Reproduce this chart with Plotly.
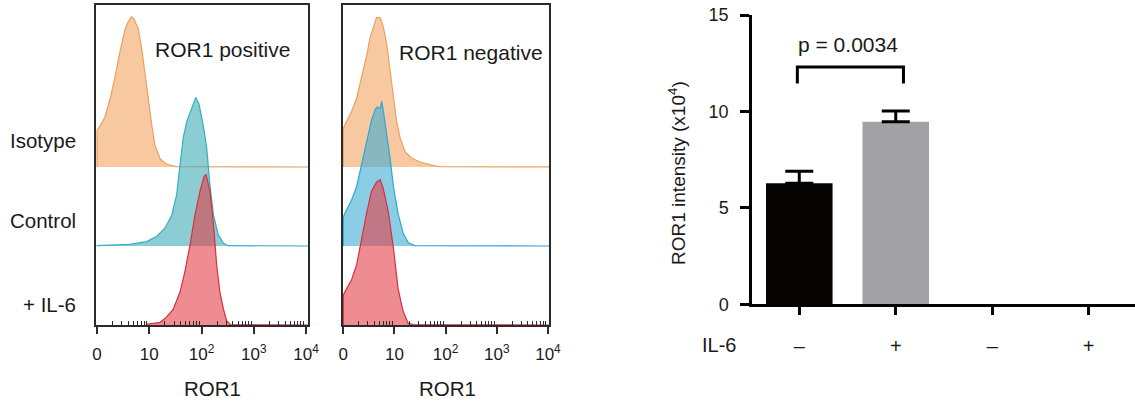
import math
import plotly.graph_objects as go

W, H = 1135, 406
FONT = "Liberation Sans, Arial, Helvetica, sans-serif"

# ---------------- data ----------------
decade_ticks = ["0", "10", "10<sup>2</sup>", "10<sup>3</sup>", "10<sup>4</sup>"]
row_labels = ["Isotype", "Control", "+ IL-6"]
panel_titles = ["ROR1 positive", "ROR1 negative"]

# ROR1 positive panel (x in display decades, h = relative count)
pos_iso_x = [0.0, 0.06, 0.15, 0.25, 0.34, 0.44, 0.54, 0.60, 0.66, 0.71, 0.79, 0.855, 0.92, 0.98, 1.05, 1.11, 1.21, 1.33, 1.52]
pos_iso_h = [0.46, 0.52, 0.63, 0.86, 1.12, 1.46, 1.75, 1.84, 1.90, 1.87, 1.75, 1.50, 1.16, 0.86, 0.52, 0.27, 0.10, 0.034, 0.004]
pos_ctl_x = [0.0, 0.63, 0.95, 1.14, 1.30, 1.43, 1.525, 1.59, 1.65, 1.72, 1.81, 1.86, 1.89, 1.95, 2.03, 2.10, 2.16, 2.23, 2.32, 2.42, 2.51]
pos_ctl_h = [0.005, 0.02, 0.055, 0.12, 0.225, 0.39, 0.65, 1.03, 1.37, 1.58, 1.75, 1.83, 1.88, 1.80, 1.54, 1.24, 0.78, 0.39, 0.14, 0.034, 0.004]
pos_il6_x = [0.95, 1.21, 1.33, 1.46, 1.59, 1.68, 1.78, 1.875, 1.97, 2.05, 2.09, 2.16, 2.23, 2.29, 2.35, 2.42, 2.48, 2.55]
pos_il6_h = [0.01, 0.034, 0.10, 0.20, 0.42, 0.67, 1.01, 1.39, 1.69, 1.88, 1.90, 1.69, 1.27, 0.76, 0.42, 0.20, 0.055, 0.004]

# ROR1 negative panel
neg_iso_x = [0.0, 0.065, 0.16, 0.26, 0.36, 0.46, 0.52, 0.59, 0.65, 0.72, 0.78, 0.85, 0.91, 0.98, 1.04, 1.11, 1.20, 1.33, 1.50, 1.69, 1.86]
neg_iso_h = [0.49, 0.58, 0.70, 0.87, 1.13, 1.42, 1.63, 1.78, 1.89, 1.89, 1.78, 1.55, 1.25, 0.92, 0.58, 0.37, 0.20, 0.114, 0.063, 0.03, 0.004]
neg_ctl_x = [0.0, 0.065, 0.16, 0.26, 0.36, 0.46, 0.55, 0.62, 0.66, 0.72, 0.75, 0.78, 0.85, 0.91, 0.98, 1.07, 1.17, 1.27, 1.40]
neg_ctl_h = [0.37, 0.46, 0.58, 0.75, 1.05, 1.34, 1.59, 1.72, 1.76, 1.74, 1.83, 1.72, 1.43, 1.13, 0.75, 0.41, 0.16, 0.04, 0.004]
neg_il6_x = [0.0, 0.065, 0.16, 0.26, 0.36, 0.46, 0.55, 0.65, 0.72, 0.78, 0.88, 0.98, 1.07, 1.17, 1.27, 1.37]
neg_il6_h = [0.38, 0.46, 0.57, 0.76, 1.10, 1.43, 1.69, 1.81, 1.84, 1.73, 1.43, 0.97, 0.46, 0.17, 0.02, 0.004]

# bar chart
bar_labels = ["\u2013", "+", "\u2013", "+"]
bar_values = [6.27, 9.46, None, None]
bar_err = [0.63, 0.56, 0, 0]
bar_colors = ["#070404", "#A2A1A6", "#A2A1A6", "#A2A1A6"]
p_text = "p = 0.0034"
y_ticks = [0, 5, 10, 15]

# ---------------- helpers ----------------
def fx(px):
    return px / W

def fy(py):
    return 1 - py / H

X_END = 4.06
fill_colors = ["rgba(244,164,96,0.6)", "rgba(63,172,183,0.6)", "rgba(227,63,72,0.6)"]
fill_colors_neg = ["rgba(244,164,96,0.6)", "rgba(63,172,213,0.6)", "rgba(227,63,72,0.6)"]
line_colors = ["#E9A262", "#33B0C0", "#D0323F"]
line_colors_neg = ["#E9A262", "#2EA8D2", "#D0323F"]

fig = go.Figure()

def add_hist(xs, hs, base, xa, ya, fc, lc):
    x0 = xs[0]
    px = [x0] + list(xs) + [X_END]
    py = [base] + [base + h for h in hs] + [base]
    fig.add_trace(go.Scatter(x=px, y=py, mode="lines", fill="toself",
                             fillcolor=fc, line=dict(color=lc, width=1.2),
                             xaxis=xa, yaxis=ya, showlegend=False, hoverinfo="skip"))

pos_sets = [(pos_iso_x, pos_iso_h), (pos_ctl_x, pos_ctl_h), (pos_il6_x, pos_il6_h)]
neg_sets = [(neg_iso_x, neg_iso_h), (neg_ctl_x, neg_ctl_h), (neg_il6_x, neg_il6_h)]
bases = [2, 1, 0]
for i, (xs, hs) in enumerate(pos_sets):
    add_hist(xs, hs, bases[i], "x", "y", fill_colors[i], line_colors[i])
for i, (xs, hs) in enumerate(neg_sets):
    add_hist(xs, hs, bases[i], "x2", "y2", fill_colors_neg[i], line_colors_neg[i])

cats = list(range(len(bar_labels)))
fig.add_trace(go.Bar(x=cats, y=bar_values, marker=dict(color=bar_colors, line=dict(width=0)),
                     width=0.69,
                     error_y=dict(type="data", array=bar_err, arrayminus=[0] * len(bar_err),
                                  symmetric=False, color="#000000", thickness=3, width=14),
                     xaxis="x3", yaxis="y3", showlegend=False))

minor_vals = [d + math.log10(k) for d in range(4) for k in range(2, 10)]

def flow_xaxis(d0, d1, r0, r1):
    return dict(domain=[fx(d0), fx(d1)], range=[r0, r1], showline=True, mirror=True,
                linecolor="#2b2b2b", linewidth=1.5, showgrid=False, zeroline=False,
                automargin=False,
                tickmode="array", tickvals=[0, 1, 2, 3, 4], ticktext=decade_ticks,
                ticks="outside", ticklen=7, tickwidth=1.5, tickcolor="#2b2b2b",
                tickfont=dict(size=17, color="#1a1a1a", family=FONT), ticklabelstandoff=6,
                minor=dict(tickvals=minor_vals, ticks="inside", ticklen=4, tickwidth=1,
                           tickcolor="#2b2b2b", showgrid=False))

def flow_yaxis(anchor):
    return dict(domain=[fy(325), fy(5)], range=[0, 4.05], showline=True, mirror=True,
                linecolor="#2b2b2b", linewidth=1.5, showgrid=False, zeroline=False,
                automargin=False, showticklabels=False, ticks="", anchor=anchor)

layout = dict(
    width=W, height=H, margin=dict(l=0, r=0, t=0, b=0, pad=0, autoexpand=False),
    paper_bgcolor="white", plot_bgcolor="white",
    font=dict(family=FONT, color="#1a1a1a"),
    xaxis=dict(flow_xaxis(96, 308, -0.019, 4.038), anchor="y"),
    yaxis=flow_yaxis("x"),
    xaxis2=dict(flow_xaxis(343, 549, -0.006, 4.02), anchor="y2"),
    yaxis2=flow_yaxis("x2"),
    xaxis3=dict(domain=[fx(752), 1.0], range=[-0.49, 3.48], anchor="y3",
                showline=True, linecolor="#000", linewidth=2.5, showgrid=False, zeroline=False,
                automargin=False,
                tickmode="array", tickvals=cats, ticktext=bar_labels,
                ticks="outside", ticklen=8, tickwidth=2.5, tickcolor="#000",
                tickfont=dict(size=20, color="#1a1a1a", family=FONT), ticklabelstandoff=14),
    yaxis3=dict(domain=[fy(304.3), fy(15)], range=[0, 15], anchor="x3",
                showline=True, linecolor="#000", linewidth=2.5, showgrid=False, zeroline=False,
                automargin=False,
                tickmode="array", tickvals=y_ticks, ticks="outside", ticklen=9, tickwidth=2.5,
                tickcolor="#000", tickfont=dict(size=18, color="#1a1a1a", family=FONT),
                ticklabelstandoff=8),
    bargap=0.3,
)
fig.update_layout(**layout)

ann = []
row_y = [140, 220, 304]
for lab, yy in zip(row_labels, row_y):
    ann.append(dict(text=lab, x=fx(78), y=fy(yy), xref="paper", yref="paper",
                    xanchor="right", yanchor="middle", showarrow=False, font=dict(size=20.5)))
ann.append(dict(text=panel_titles[0], x=fx(153), y=fy(49), xref="paper", yref="paper",
                xanchor="left", yanchor="middle", showarrow=False, font=dict(size=21)))
ann.append(dict(text=panel_titles[1], x=fx(397), y=fy(52), xref="paper", yref="paper",
                xanchor="left", yanchor="middle", showarrow=False, font=dict(size=21)))
for xc in (212, 447):
    ann.append(dict(text="ROR1", x=fx(xc), y=fy(388), xref="paper", yref="paper",
                    xanchor="center", yanchor="middle", showarrow=False, font=dict(size=20.5)))
ann.append(dict(text="IL-6", x=fx(719), y=fy(345), xref="paper", yref="paper",
                xanchor="center", yanchor="middle", showarrow=False, font=dict(size=20)))
ann.append(dict(text="ROR1 intensity (x10<sup>4</sup>)", x=fx(677), y=fy(173), xref="paper",
                yref="paper", xanchor="center", yanchor="middle", textangle=-90,
                showarrow=False, font=dict(size=19)))
ann.append(dict(text=p_text, x=0.5, y=13.45, xref="x3", yref="y3", xanchor="center",
                yanchor="middle", showarrow=False, font=dict(size=21)))
fig.update_layout(annotations=ann)

fig.add_shape(type="path", xref="x3", yref="y3",
              path="M -0.02 11.45 L -0.02 12.31 L 1.08 12.31 L 1.08 11.45",
              line=dict(color="#000", width=3))

fig.write_html("out.html", config={"displayModeBar": False},
               post_script="document.body.style.margin='0';document.body.style.overflow='hidden';")
